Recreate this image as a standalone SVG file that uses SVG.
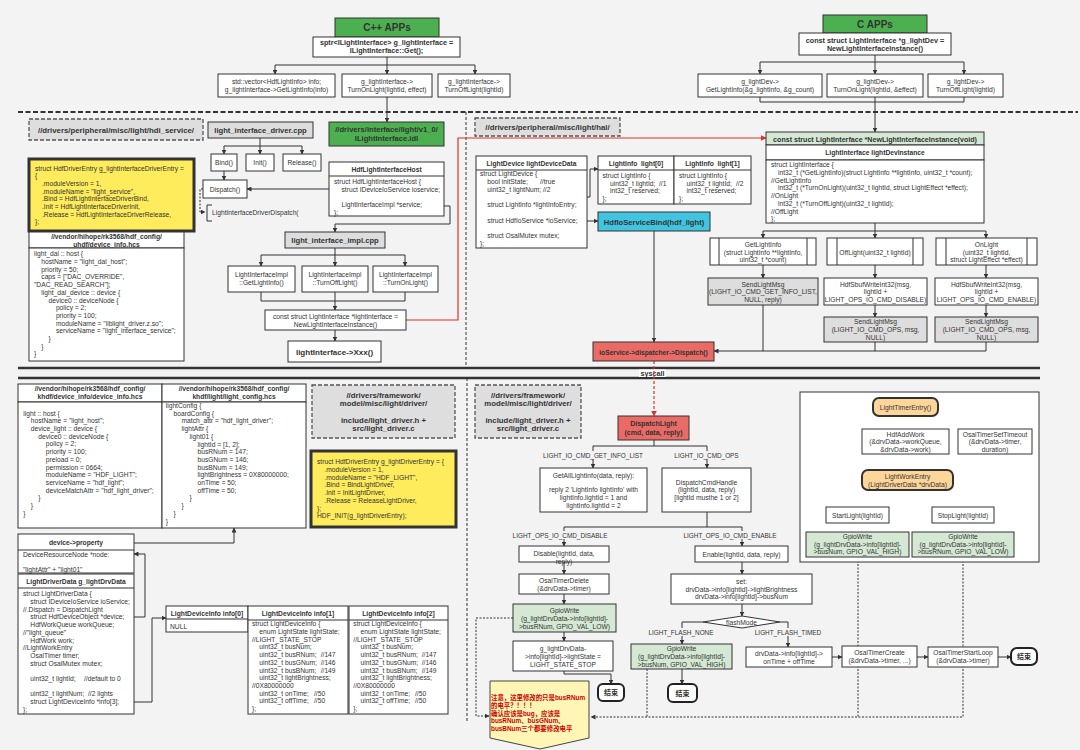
<svg xmlns="http://www.w3.org/2000/svg" width="1080" height="750" viewBox="0 0 1080 750">
<style>
text{font-family:"Liberation Sans","Noto Sans CJK SC",sans-serif;font-size:6.7px;fill:#333}
.b{font-weight:bold}
.m{text-anchor:middle}
.t7{font-size:7.2px}
.t8{font-size:7.8px}
.lb{font-size:6.4px}
.bx{fill:#fff;stroke:#333;stroke-width:1}
.gr{fill:#4caf50}
.lg{fill:#d5e8d4}
.gy{fill:#dddddd}
.ye{fill:#ffec5c;stroke-width:3}
.rd{fill:#ea6b66}
.cy{fill:#40c4e0}
.or{fill:#ffd699;stroke-width:2}
.end{fill:#fff;stroke:#222;stroke-width:2}
.dl{fill:#dedede;stroke:#555;stroke-width:1.3;stroke-dasharray:4 2}
.ln{fill:none;stroke:#333;stroke-width:1}
.ar{marker-end:url(#a)}
.dt{stroke-dasharray:2 1.5}
.red{fill:none;stroke:#d9342b;stroke-width:1.2;marker-end:url(#r)}
.sep{fill:none;stroke:#333}
.bg{fill:#f3f3f3}
.note{fill:#cc0000;font-weight:bold;font-size:6.4px}
</style>
<defs>
<marker id="a" viewBox="0 0 10 10" refX="9" refY="5" markerWidth="5" markerHeight="5" orient="auto" markerUnits="userSpaceOnUse"><path d="M0,0L10,5L0,10z" fill="#333"/></marker>
<marker id="r" viewBox="0 0 10 10" refX="9" refY="5" markerWidth="6" markerHeight="6" orient="auto" markerUnits="userSpaceOnUse"><path d="M0,0L10,5L0,10z" fill="#d9342b"/></marker>
</defs>
<rect x="0" y="0" width="1080" height="750" fill="#f3f3f3"/>

<g id="separators">
<path class="sep" d="M18,112H1078" stroke-width="2" stroke-dasharray="5 2.5"/>
<path class="sep" d="M466,112V368" stroke-width="1" stroke-dasharray="3 2"/>
<path class="sep" d="M467,378V722" stroke-width="1" stroke-dasharray="3 2"/>
<path class="sep" d="M18,368H1040M18,378H1040" stroke-width="2.5"/>
<rect x="639" y="369.5" width="27" height="7.5" fill="#fff"/>
<text class="b m t7" x="652.5" y="376">syscall</text>
</g>

<g id="connectors">
<path class="ln" d="M387,57V65M275,65H475"/>
<path class="ln ar" d="M275,65V74"/><path class="ln ar" d="M387,65V74"/><path class="ln ar" d="M475,65V74"/>
<path class="ln ar" d="M387,97V122"/>
<path class="ln" d="M260,138V146M224,146H302"/>
<path class="ln ar" d="M224,146V154"/><path class="ln ar" d="M260,146V154"/><path class="ln ar" d="M302,146V154"/>
<path class="ln ar" d="M224,171V180"/>
<path class="ln ar" d="M329,189H247"/>
<path class="ln ar dt" d="M203,189H200V212H205"/>
<path class="ln ar" d="M444,206H450V224H335V232"/>
<path class="ln" d="M335,248V255M261,255H405"/>
<path class="ln ar" d="M261,255V266"/><path class="ln ar" d="M335,255V266"/><path class="ln ar" d="M405,255V266"/>
<path class="ln" d="M261,292V301H405V292"/>
<path class="ln ar" d="M335,292V310"/>
<path class="ln ar" d="M335,330V341"/>
<path class="red" d="M406,320H458V138H766"/>
<path class="ln" d="M875,55V62M760,62H964"/>
<path class="ln ar" d="M760,62V74"/><path class="ln ar" d="M875,62V74"/><path class="ln ar" d="M964,62V74"/>
<path class="ln" d="M760,97V102H964V97"/>
<path class="ln ar" d="M875,97V132"/>
<path class="ln" d="M875,223V231M763,231H986"/>
<path class="ln ar" d="M763,231V238"/><path class="ln ar" d="M875,231V238"/><path class="ln ar" d="M986,231V238"/>
<path class="ln ar" d="M763,265V278"/><path class="ln ar" d="M875,265V278"/><path class="ln ar" d="M986,265V278"/>
<path class="ln ar" d="M875,305V317"/><path class="ln ar" d="M986,305V317"/>
<path class="ln" d="M763,305V351M875,342V351"/>
<path class="ln ar" d="M986,342V351H714"/>
<path class="ln ar" d="M587,197H590V169H598"/>
<path class="ln ar" d="M587,221H598"/>
<path class="ln ar" d="M654,231V342"/>
<path class="red" d="M654,361V416" stroke-width="1.6" stroke-dasharray="3 2"/>
<path class="ln ar" d="M134,543H234V528"/>
<path class="ln ar" d="M134,617H145V554H134"/>
<path class="ln ar" d="M134,702H152V618H166"/>
<path class="ln" d="M654,440V446M593,446H707"/>
<path class="ln ar" d="M593,446V468"/><path class="ln ar" d="M707,446V468"/>
<path class="ln" d="M707,512V527M564,527H742"/>
<path class="ln ar" d="M564,527V546"/><path class="ln ar" d="M742,527V546"/>
<path class="ln ar" d="M564,562V574"/><path class="ln ar" d="M564,594V604"/><path class="ln ar" d="M564,632V641"/>
<path class="ln ar" d="M564,671V674H611V684"/>
<path class="ln ar" d="M742,562V574"/><path class="ln ar" d="M742,604V616"/>
<path class="ln ar" d="M703,622H682V644"/>
<path class="ln ar" d="M780,622H788V647"/>
<path class="ln ar" d="M682,669V684"/>
<path class="ln ar" d="M832,657H842"/><path class="ln ar" d="M917,657H928"/><path class="ln ar" d="M998,657H1011"/>
<path class="ln ar" d="M906,416V429"/><path class="ln ar" d="M949,442H958"/>
<path class="ln" d="M908,490V498M858,498H963"/>
<path class="ln ar" d="M858,498V507"/><path class="ln ar" d="M963,498V507"/>
<path class="ln ar" d="M858,523V532"/><path class="ln ar" d="M963,523V532"/>
<path class="ln ar dt" d="M513,618H476V716H489"/>
<path class="ln dt" d="M647,669V717M858,557V717"/>
<path class="ln ar dt" d="M963,557V717H591"/>
<rect class="bg" x="546" y="451" width="94" height="8"/>
<text class="lb m" x="593" y="457.5">LIGHT_IO_CMD_GET_INFO_LIST</text>
<rect class="bg" x="676" y="451" width="61" height="8"/>
<text class="lb m" x="706.5" y="457.5">LIGHT_IO_CMD_OPS</text>
<rect class="bg" x="514" y="531" width="92" height="8"/>
<text class="lb m" x="560" y="537.5">LIGHT_OPS_IO_CMD_DISABLE</text>
<rect class="bg" x="686" y="531" width="89" height="8"/>
<text class="lb m" x="730" y="537.5">LIGHT_OPS_IO_CMD_ENABLE</text>
<rect class="bg" x="650" y="628" width="62" height="8"/>
<text class="lb m" x="681" y="634.5">LIGHT_FLASH_NONE</text>
<rect class="bg" x="757" y="628" width="62" height="8"/>
<text class="lb m" x="788" y="634.5">LIGHT_FLASH_TIMED</text>
</g>

<g id="cpp-apps"><rect class="bx gr" x="335" y="18" width="104" height="19"/><text class="b m" x="387" y="31" style="font-size:10px">C++ APPs</text></g>
<g id="cpp-get"><rect class="bx" x="313" y="37" width="147" height="20"/><text class="b m t7"><tspan x="386.5" y="45">sptr&lt;ILightInterface&gt; g_lightInterface =</tspan><tspan x="386.5" y="53">ILightInterface::Get();</tspan></text></g>
<g id="cpp-getinfo"><rect class="bx" x="218" y="74" width="117" height="23"/><text class="m"><tspan x="276.5" y="84">std::vector&lt;HdfLightInfo&gt; info;</tspan><tspan x="276.5" y="91.6">g_lightInterface-&gt;GetLightInfo(info)</tspan></text></g>
<g id="cpp-on"><rect class="bx" x="342" y="74" width="90" height="23"/><text class="m"><tspan x="387" y="84">g_lightInterface-&gt;</tspan><tspan x="387" y="91.6">TurnOnLight(lightId, effect)</tspan></text></g>
<g id="cpp-off"><rect class="bx" x="438" y="74" width="72" height="23"/><text class="m"><tspan x="474" y="84">g_lightInterface-&gt;</tspan><tspan x="474" y="91.6">TurnOffLight(lightId)</tspan></text></g>

<g id="c-apps"><rect class="bx gr" x="823" y="15" width="104" height="18"/><text class="b m" x="875" y="28" style="font-size:10px">C APPs</text></g>
<g id="c-get"><rect class="bx" x="799" y="33" width="152" height="22"/><text class="b m t7"><tspan x="875" y="43">const struct LightInterface *g_lightDev =</tspan><tspan x="875" y="50.8">NewLightInterfaceInstance()</tspan></text></g>
<g id="c-getinfo"><rect class="bx" x="698" y="74" width="124" height="23"/><text class="m"><tspan x="760" y="84">g_lightDev-&gt;</tspan><tspan x="760" y="91.6">GetLightInfo(&amp;g_lightInfo, &amp;g_count)</tspan></text></g>
<g id="c-on"><rect class="bx" x="827" y="74" width="96" height="23"/><text class="m"><tspan x="875" y="84">g_lightDev-&gt;</tspan><tspan x="875" y="91.6">TurnOnLight(lightId, &amp;effect)</tspan></text></g>
<g id="c-off"><rect class="bx" x="928" y="74" width="75" height="23"/><text class="m"><tspan x="965.5" y="84">g_lightDev-&gt;</tspan><tspan x="965.5" y="91.6">TurnOffLight(lightId)</tspan></text></g>

<g id="hdi-label"><rect class="dl" x="29" y="119" width="174" height="21"/><text class="b m t8" x="116" y="132.5">//drivers/peripheral/misc/light/hdi_service/</text></g>
<g id="driver-cpp"><rect class="bx gy" x="208" y="122" width="105" height="16"/><text class="b m" x="260.5" y="133" style="font-size:7.6px">light_interface_driver.cpp</text></g>
<g id="idl"><rect class="bx gr" x="329" y="122" width="115" height="24"/><text class="b m" style="font-size:7.6px"><tspan x="386.5" y="131.5">//drivers/interface/light/v1_0/</tspan><tspan x="386.5" y="141">ILightInterface.idl</tspan></text></g>
<g id="bind"><rect class="bx" x="211" y="154" width="26" height="17"/><text class="m" x="224" y="164.8">Bind()</text></g>
<g id="init"><rect class="bx" x="246" y="154" width="28" height="17"/><text class="m" x="260" y="164.8">Init()</text></g>
<g id="release"><rect class="bx" x="283" y="154" width="38" height="17"/><text class="m" x="302" y="164.8">Release()</text></g>
<g id="dispatch"><rect class="bx" x="203" y="180" width="44" height="18"/><text class="m" x="225" y="191.5">Dispatch()</text></g>
<g id="driver-dispatch"><path class="ln" d="M212,205H207V221H212"/><text x="212" y="214.5">LightInterfaceDriverDispatch(</text></g>
<g id="host"><rect class="bx" x="329" y="162" width="115" height="54"/><path class="ln" d="M329,176H444"/><text class="b m" x="386.5" y="171.5">HdfLightInterfaceHost</text>
<text><tspan x="334" y="184">struct HdfLightInterfaceHost {</tspan><tspan x="341.5" y="191.6">struct IDeviceIoService ioservice;</tspan><tspan x="341.5" y="207">LightInterfaceImpl *service;</tspan><tspan x="334" y="214.6">};</tspan></text></g>
<g id="impl-cpp"><rect class="bx gy" x="285" y="232" width="100" height="16"/><text class="b m" x="335" y="243" style="font-size:7.6px">light_interface_impl.cpp</text></g>
<g id="impl-get"><rect class="bx" x="228" y="266" width="67" height="26"/><text class="m"><tspan x="261.5" y="277">LightInterfaceImpl</tspan><tspan x="261.5" y="285">::GetLightInfo()</tspan></text></g>
<g id="impl-off"><rect class="bx" x="302" y="266" width="66" height="26"/><text class="m"><tspan x="335" y="277">LightInterfaceImpl</tspan><tspan x="335" y="285">::TurnOffLight()</tspan></text></g>
<g id="impl-on"><rect class="bx" x="373" y="266" width="65" height="26"/><text class="m"><tspan x="405.5" y="277">LightInterfaceImpl</tspan><tspan x="405.5" y="285">::TurnOnLight()</tspan></text></g>
<g id="impl-new"><rect class="bx" x="265" y="310" width="141" height="20"/><text class="m"><tspan x="335.5" y="318.5">const struct LightInterface *lightInterface =</tspan><tspan x="335.5" y="326.5">NewLightInterfaceInstance()</tspan></text></g>
<g id="xxx"><rect class="bx" x="288" y="341" width="93" height="21"/><text class="b m" x="334.5" y="354.5" style="font-size:8px">lightInterface-&gt;Xxx()</text></g>

<g id="hdi-entry"><rect class="bx ye" x="29" y="159" width="165" height="72"/>
<text><tspan x="35" y="170.5">struct HdfDriverEntry g_lightInterfaceDriverEntry =</tspan><tspan x="35" y="178.2">{</tspan><tspan x="42" y="185.9">.moduleVersion = 1,</tspan><tspan x="42" y="193.6">.moduleName = "light_service",</tspan><tspan x="42" y="201.3">.Bind = HdfLightInterfaceDriverBind,</tspan><tspan x="42" y="209">.Init = HdfLightInterfaceDriverInit,</tspan><tspan x="42" y="216.7">.Release = HdfLightInterfaceDriverRelease,</tspan><tspan x="35" y="224.4">};</tspan></text></g>
<g id="uhdf-device-info"><rect class="bx" x="29" y="232" width="155" height="16"/><text class="b m"><tspan x="106.5" y="239">//vendor/hihope/rk3568/hdf_config/</tspan><tspan x="106.5" y="246.6">uhdf/device_info.hcs</tspan></text>
<rect class="bx" x="29" y="248" width="155" height="113"/>
<text><tspan x="34" y="256.3">light_dal :: host {</tspan><tspan x="41.3" y="264">hostName = "light_dal_host";</tspan><tspan x="41.3" y="271.7">priority = 50;</tspan><tspan x="41.3" y="279.4">caps = ["DAC_OVERRIDE",</tspan><tspan x="34" y="287.1">"DAC_READ_SEARCH"];</tspan><tspan x="41.3" y="294.8">light_dal_device :: device {</tspan><tspan x="48.6" y="302.5">device0 :: deviceNode {</tspan><tspan x="55.9" y="310.2">policy = 2;</tspan><tspan x="55.9" y="317.9">priority = 100;</tspan><tspan x="55.9" y="325.6">moduleName = "liblight_driver.z.so";</tspan><tspan x="55.9" y="333.3">serviceName = "light_interface_service";</tspan><tspan x="48.6" y="341">}</tspan><tspan x="41.3" y="348.7">}</tspan><tspan x="34" y="356.4">}</tspan></text></g>

<g id="hal-label"><rect class="dl" x="475" y="118" width="145" height="18"/><text class="b m t8" x="547.5" y="130">//drivers/peripheral/misc/light/hal/</text></g>
<g id="light-device"><rect class="bx" x="476" y="156" width="111" height="92"/><path class="ln" d="M476,170H587"/><text class="b m" x="531.5" y="165.5">LightDevice lightDeviceData</text>
<text><tspan x="480" y="176.3">struct LightDevice {</tspan><tspan x="487.3" y="184">bool initState;</tspan><tspan x="540" y="184">//true</tspan><tspan x="487.3" y="191.7">uint32_t lightNum;</tspan><tspan x="543" y="191.7">//2</tspan><tspan x="487.3" y="207.1">struct LightInfo *lightInfoEntry;</tspan><tspan x="487.3" y="222.5">struct HdfIoService *ioService;</tspan><tspan x="487.3" y="237.9">struct OsalMutex mutex;</tspan><tspan x="480" y="245.6">};</tspan></text></g>
<g id="light-info-0"><rect class="bx" x="598" y="156" width="76" height="48"/><path class="ln" d="M598,170H674"/><text class="b m" x="636" y="165.5">LightInfo&#160;&#160;light[0]</text>
<text><tspan x="602.5" y="178">struct LightInfo {</tspan><tspan x="610" y="185.6">uint32_t lightId;</tspan><tspan x="659" y="185.6">//1</tspan><tspan x="610" y="193.3">int32_t reserved;</tspan><tspan x="602.5" y="201">};</tspan></text></g>
<g id="light-info-1"><rect class="bx" x="674" y="156" width="77" height="48"/><path class="ln" d="M674,170H751"/><text class="b m" x="712.5" y="165.5">LightInfo&#160;&#160;light[1]</text>
<text><tspan x="679" y="178">struct LightInfo {</tspan><tspan x="686.5" y="185.6">uint32_t lightId;</tspan><tspan x="736" y="185.6">//2</tspan><tspan x="686.5" y="193.3">int32_t reserved;</tspan><tspan x="679" y="201">};</tspan></text></g>
<g id="io-bind"><rect class="bx cy" x="598" y="212" width="112" height="19"/><text class="b m" x="654" y="224.8" style="font-size:7.6px">HdfIoServiceBind(hdf_light)</text></g>
<g id="io-dispatch"><rect class="bx rd" x="593" y="342" width="121" height="19"/><text class="b m" x="653.5" y="354.5">ioService-&gt;dispatcher-&gt;Dispatch()</text></g>

<g id="new-instance"><rect class="bx lg" x="766" y="132" width="218" height="13"/><text class="b m" x="875" y="141.5" style="font-size:7.1px">const struct LightInterface *NewLightInterfaceInstance(void)</text>
<rect class="bx" x="766" y="145" width="218" height="15"/><text class="b m" x="875" y="155">LightInterface lightDevInstance</text>
<rect class="bx" x="766" y="160" width="218" height="63"/>
<text><tspan x="771" y="167.3">struct LightInterface {</tspan><tspan x="778" y="175">int32_t (*GetLightInfo)(struct LightInfo **lightInfo, uint32_t *count);</tspan><tspan x="771" y="182.7">//GetLightInfo</tspan><tspan x="778" y="190.4">int32_t (*TurnOnLight)(uint32_t lightId, struct LightEffect *effect);</tspan><tspan x="771" y="198.1">//OnLight</tspan><tspan x="778" y="205.8">int32_t (*TurnOffLight)(uint32_t lightId);</tspan><tspan x="771" y="213.5">//OffLight</tspan><tspan x="771" y="221.2">};</tspan></text></g>
<g id="hal-getinfo"><rect class="bx" x="710" y="238" width="106" height="27"/><path class="ln" d="M719,238V265M807,238V265"/><text class="m"><tspan x="763" y="247.3">GetLightInfo</tspan><tspan x="763" y="255">(struct LightInfo **lightInfo,</tspan><tspan x="763" y="261.8">uint32_t *count)</tspan></text></g>
<g id="hal-off"><rect class="bx" x="827" y="238" width="96" height="27"/><path class="ln" d="M837,238V265M913,238V265"/><text class="m" x="875" y="254.5">OffLight(uint32_t lightId)</text></g>
<g id="hal-on"><rect class="bx" x="936" y="238" width="101" height="27"/><path class="ln" d="M946,238V265M1027,238V265"/><text class="m"><tspan x="986.5" y="247">OnLight</tspan><tspan x="986.5" y="255">(uint32_t lightId,</tspan><tspan x="986.5" y="262.3">struct LightEffect *effect)</tspan></text></g>
<g id="send-get"><rect class="bx gy" x="708" y="278" width="110" height="27"/><text class="m"><tspan x="763" y="286.6">SendLightMsg</tspan><tspan x="763" y="294">(LIGHT_IO_CMD_GET_INFO_LIST,</tspan><tspan x="763" y="301.6">NULL, reply)</tspan></text></g>
<g id="sbuf-disable"><rect class="bx" x="824" y="278" width="103" height="27"/><text class="m"><tspan x="875.5" y="286.6">HdfSbufWriteInt32(msg,</tspan><tspan x="875.5" y="294">lightId +</tspan><tspan x="875.5" y="301.6">LIGHT_OPS_IO_CMD_DISABLE)</tspan></text></g>
<g id="send-off"><rect class="bx gy" x="824" y="317" width="103" height="25"/><text class="m"><tspan x="875.5" y="324">SendLightMsg</tspan><tspan x="875.5" y="332.3">(LIGHT_IO_CMD_OPS, msg,</tspan><tspan x="875.5" y="339.6">NULL)</tspan></text></g>
<g id="sbuf-enable"><rect class="bx" x="935" y="278" width="103" height="27"/><text class="m"><tspan x="986.5" y="286.6">HdfSbufWriteInt32(msg,</tspan><tspan x="986.5" y="294">lightId +</tspan><tspan x="986.5" y="301.6">LIGHT_OPS_IO_CMD_ENABLE)</tspan></text></g>
<g id="send-on"><rect class="bx gy" x="935" y="317" width="103" height="25"/><text class="m"><tspan x="986.5" y="324">SendLightMsg</tspan><tspan x="986.5" y="332.3">(LIGHT_IO_CMD_OPS, msg,</tspan><tspan x="986.5" y="339.6">NULL)</tspan></text></g>

<g id="khdf-device-info"><rect class="bx" x="18" y="384" width="144" height="18"/><text class="b m"><tspan x="90" y="390.8">//vendor/hihope/rk3568/hdf_config/</tspan><tspan x="90" y="398.5">khdf/device_info/device_info.hcs</tspan></text>
<rect class="bx" x="18" y="402" width="144" height="126"/>
<text><tspan x="23.3" y="415.6">light :: host {</tspan><tspan x="30.8" y="423.3">hostName = "light_host";</tspan><tspan x="30.8" y="431">device_light :: device {</tspan><tspan x="38.3" y="438.7">device0 :: deviceNode {</tspan><tspan x="45.8" y="446.4">policy = 2;</tspan><tspan x="45.8" y="454.1">priority = 100;</tspan><tspan x="45.8" y="461.8">preload = 0;</tspan><tspan x="45.8" y="469.5">permission = 0664;</tspan><tspan x="45.8" y="477.2">moduleName = "HDF_LIGHT";</tspan><tspan x="45.8" y="484.9">serviceName = "hdf_light";</tspan><tspan x="45.8" y="492.6">deviceMatchAttr = "hdf_light_driver";</tspan><tspan x="38.3" y="500.3">}</tspan><tspan x="30.8" y="508">}</tspan><tspan x="23.3" y="515.7">}</tspan></text></g>
<g id="light-config"><rect class="bx" x="162" y="384" width="144" height="18"/><text class="b m"><tspan x="234" y="390.8">//vendor/hihope/rk3568/hdf_config/</tspan><tspan x="234" y="398.5">khdf/light/light_config.hcs</tspan></text>
<rect class="bx" x="162" y="402" width="144" height="126"/>
<text><tspan x="165.7" y="408">lightConfig {</tspan><tspan x="173.5" y="415.7">boardConfig {</tspan><tspan x="181.5" y="423.4">match_attr = "hdf_light_driver";</tspan><tspan x="181.5" y="431.1">lightAttr {</tspan><tspan x="189.5" y="438.8">light01 {</tspan><tspan x="197.5" y="446.5">lightId = [1, 2];</tspan><tspan x="197.5" y="454.2">busRNum = 147;</tspan><tspan x="197.5" y="461.9">busGNum = 146;</tspan><tspan x="197.5" y="469.6">busBNum = 149;</tspan><tspan x="197.5" y="477.3">lightBrightness = 0X80000000;</tspan><tspan x="197.5" y="485">onTime = 50;</tspan><tspan x="197.5" y="492.7">offTime = 50;</tspan><tspan x="189.5" y="500.4">}</tspan><tspan x="181.5" y="508.1">}</tspan><tspan x="173.5" y="515.8">}</tspan><tspan x="165.7" y="523.5">}</tspan></text></g>
<g id="device-property"><rect class="bx" x="18" y="534" width="116" height="39"/><path class="ln" d="M18,550H134"/><text class="b m" x="76" y="545">device-&gt;property</text>
<text><tspan x="23" y="556.6">DeviceResourceNode *node:</tspan><tspan x="23" y="571.6">"lightAttr" + "light01"</tspan></text></g>
<g id="driver-data"><rect class="bx" x="18" y="574" width="116" height="140"/><path class="ln" d="M18,588H134"/><text class="b m" x="76" y="584">LightDriverData g_lightDrvData</text>
<text><tspan x="23" y="596.3">struct LightDriverData {</tspan><tspan x="30.3" y="604">struct IDeviceIoService ioService;</tspan><tspan x="23" y="611.7">//.Dispatch = DispatchLight</tspan><tspan x="30.3" y="619.4">struct HdfDeviceObject *device;</tspan><tspan x="30.3" y="627.1">HdfWorkQueue workQueue;</tspan><tspan x="23" y="634.8">//"light_queue"</tspan><tspan x="30.3" y="642.5">HdfWork work;</tspan><tspan x="23" y="650.2">//LightWorkEntry</tspan><tspan x="30.3" y="657.9">OsalTimer timer;</tspan><tspan x="30.3" y="665.6">struct OsalMutex mutex;</tspan><tspan x="30.3" y="681">uint32_t lightId;</tspan><tspan x="84" y="681">//default to 0</tspan><tspan x="30.3" y="696.4">uint32_t lightNum;</tspan><tspan x="88" y="696.4">//2 lights</tspan><tspan x="30.3" y="704.1">struct LightDeviceInfo *info[3];</tspan><tspan x="23" y="711.8">};</tspan></text></g>
<g id="info-0"><rect class="bx" x="166" y="606" width="82" height="26"/><path class="ln" d="M166,619H248"/><text class="b m" x="207" y="615.5">LightDeviceInfo info[0]</text><text x="170" y="629">NULL</text></g>
<g id="info-1"><rect class="bx" x="248" y="606" width="100" height="108"/><path class="ln" d="M248,620H348"/><text class="b m" x="298" y="616">LightDeviceInfo info[1]</text>
<text><tspan x="252" y="626.3">struct LightDeviceInfo {</tspan><tspan x="259.3" y="634">enum LightState lightState;</tspan><tspan x="252" y="641.7">//LIGHT_STATE_STOP</tspan><tspan x="259.3" y="649.4">uint32_t busNum;</tspan><tspan x="259.3" y="657.1">uint32_t busRNum;</tspan><tspan x="320.7" y="657.1">//147</tspan><tspan x="259.3" y="664.8">uint32_t busGNum;</tspan><tspan x="320.7" y="664.8">//146</tspan><tspan x="259.3" y="672.5">uint32_t busBNum;</tspan><tspan x="320.7" y="672.5">//149</tspan><tspan x="259.3" y="680.2">uint32_t lightBrightness;</tspan><tspan x="252" y="687.9">//0X80000000</tspan><tspan x="259.3" y="695.6">uint32_t onTime;</tspan><tspan x="314" y="695.6">//50</tspan><tspan x="259.3" y="703.3">uint32_t offTime;</tspan><tspan x="314" y="703.3">//50</tspan><tspan x="252" y="711">};</tspan></text></g>
<g id="info-2"><rect class="bx" x="349" y="606" width="99" height="108"/><path class="ln" d="M349,620H448"/><text class="b m" x="398.5" y="616">LightDeviceInfo info[2]</text>
<text><tspan x="353.3" y="626.3">struct LightDeviceInfo {</tspan><tspan x="360.6" y="634">enum LightState lightState;</tspan><tspan x="353.3" y="641.7">//LIGHT_STATE_STOP</tspan><tspan x="360.6" y="649.4">uint32_t busNum;</tspan><tspan x="360.6" y="657.1">uint32_t busRNum;</tspan><tspan x="421.7" y="657.1">//147</tspan><tspan x="360.6" y="664.8">uint32_t busGNum;</tspan><tspan x="421.7" y="664.8">//146</tspan><tspan x="360.6" y="672.5">uint32_t busBNum;</tspan><tspan x="421.7" y="672.5">//149</tspan><tspan x="360.6" y="680.2">uint32_t lightBrightness;</tspan><tspan x="353.3" y="687.9">//0X80000000</tspan><tspan x="360.6" y="695.6">uint32_t onTime;</tspan><tspan x="415" y="695.6">//50</tspan><tspan x="360.6" y="703.3">uint32_t offTime;</tspan><tspan x="415" y="703.3">//50</tspan><tspan x="353.3" y="711">};</tspan></text></g>

<g id="driver-label-1"><rect class="dl" x="312" y="385" width="143" height="53"/><text class="b m t8"><tspan x="383.5" y="397.8">//drivers/framework/</tspan><tspan x="383.5" y="405.5">model/misc/light/driver/</tspan><tspan x="383.5" y="422.8">include/light_driver.h +</tspan><tspan x="383.5" y="431">src/light_driver.c</tspan></text></g>
<g id="driver-label-2"><rect class="dl" x="475" y="385" width="106" height="53"/><text class="b m t8"><tspan x="528" y="397.8">//drivers/framework/</tspan><tspan x="528" y="405.5">model/misc/light/driver/</tspan><tspan x="528" y="422.8">include/light_driver.h +</tspan><tspan x="528" y="431">src/light_driver.c</tspan></text></g>
<g id="driver-entry"><rect class="bx ye" x="311" y="451" width="145" height="76"/>
<text><tspan x="317" y="464.3">struct HdfDriverEntry g_lightDriverEntry = {</tspan><tspan x="324.3" y="472">.moduleVersion = 1,</tspan><tspan x="324.3" y="479.7">.moduleName = "HDF_LIGHT",</tspan><tspan x="324.3" y="487.4">.Bind = BindLightDriver,</tspan><tspan x="324.3" y="495.1">.Init = InitLightDriver,</tspan><tspan x="324.3" y="502.8">.Release = ReleaseLightDriver,</tspan><tspan x="317" y="510.5">};</tspan><tspan x="317" y="518.2">HDF_INIT(g_lightDriverEntry);</tspan></text></g>

<g id="dispatch-light"><rect class="bx rd" x="618" y="416" width="71" height="24"/><text class="b m" style="font-size:7px"><tspan x="653.5" y="426.3">DispatchLight</tspan><tspan x="653.5" y="435">(cmd, data, reply)</tspan></text></g>
<g id="get-all"><rect class="bx" x="540" y="468" width="107" height="44"/><text class="m"><tspan x="593.5" y="478">GetAllLightInfo(data, reply):</tspan><tspan x="593.5" y="492.3">reply 2 'LightInfo lightInfo' with</tspan><tspan x="593.5" y="499.8">lightInfo.lightId = 1 and</tspan><tspan x="593.5" y="508.3">lightInfo.lightId = 2</tspan></text></g>
<g id="cmd-handle"><rect class="bx" x="662" y="468" width="89" height="44"/><text class="m"><tspan x="706.5" y="484.6">DispatchCmdHandle</tspan><tspan x="706.5" y="492.3">(lightId, data, reply)</tspan><tspan x="706.5" y="499.8">[lightId musthe 1 or 2]</tspan></text></g>
<g id="disable"><rect class="bx" x="519" y="546" width="90" height="16"/><text class="m"><tspan x="564" y="555.6">Disable(lightId, data,</tspan><tspan x="564" y="564">reply)</tspan></text></g>
<g id="timer-delete"><rect class="bx" x="519" y="574" width="90" height="20"/><text class="m"><tspan x="564" y="583">OsalTimerDelete</tspan><tspan x="564" y="590.6">(&amp;drvData-&gt;timer)</tspan></text></g>
<g id="gpio-low-1"><rect class="bx lg" x="513" y="604" width="103" height="28"/><text class="m"><tspan x="564.5" y="613.3">GpioWrite</tspan><tspan x="564.5" y="621.3">(g_lightDrvData-&gt;info[lightId]-</tspan><tspan x="564.5" y="629">&gt;busRNum, GPIO_VAL_LOW)</tspan></text></g>
<g id="light-state"><rect class="bx" x="513" y="641" width="100" height="30"/><text class="m"><tspan x="563" y="650.6">g_lightDrvData-</tspan><tspan x="563" y="659">&gt;info[lightId]-&gt;lightState =</tspan><tspan x="563" y="666.6">LIGHT_STATE_STOP</tspan></text></g>
<g id="end-1"><rect class="end" x="598" y="684" width="26" height="17" rx="5"/><text class="b m" x="611" y="695.3" style="font-size:7px">结束</text></g>
<g id="enable"><rect class="bx" x="695" y="546" width="93" height="16"/><text class="m" x="741.5" y="556.6">Enable(lightId, data, reply)</text></g>
<g id="set"><rect class="bx" x="671" y="574" width="141" height="30"/><text class="m"><tspan x="741.5" y="584">set:</tspan><tspan x="741.5" y="591.6">drvData-&gt;info[lightId]-&gt;lightBrightness</tspan><tspan x="741.5" y="599">drvData-&gt;info[lightId]-&gt;busNum</tspan></text></g>
<g id="flash-mode"><path class="bx" d="M742,616L780,622L742,628L703,622Z"/><text class="m" x="741.5" y="624.6">flashMode</text></g>
<g id="gpio-high-1"><rect class="bx lg" x="631" y="644" width="101" height="25"/><text class="m"><tspan x="681.5" y="651.3">GpioWrite</tspan><tspan x="681.5" y="659">(g_lightDrvData-&gt;info[lightId]-</tspan><tspan x="681.5" y="666.6">&gt;busNum, GPIO_VAL_HIGH)</tspan></text></g>
<g id="end-2"><rect class="end" x="668" y="684" width="29" height="18" rx="5"/><text class="b m" x="682.5" y="695.8" style="font-size:7px">结束</text></g>
<g id="on-off-time"><rect class="bx" x="746" y="647" width="86" height="20"/><text class="m"><tspan x="789" y="655.5">drvData-&gt;info[lightId]-&gt;</tspan><tspan x="789" y="663.5">onTime + offTime</tspan></text></g>
<g id="timer-create"><rect class="bx" x="842" y="646" width="75" height="21"/><text class="m"><tspan x="879.5" y="655">OsalTimerCreate</tspan><tspan x="879.5" y="663">(&amp;drvData-&gt;timer, ...)</tspan></text></g>
<g id="timer-loop"><rect class="bx" x="928" y="647" width="70" height="20"/><text class="m"><tspan x="963" y="655">OsalTimerStartLoop</tspan><tspan x="963" y="663">(&amp;drvData-&gt;timer)</tspan></text></g>
<g id="end-3"><rect class="end" x="1011" y="648" width="26" height="17" rx="6"/><text class="b m" x="1024" y="659.3" style="font-size:7px">结束</text></g>

<g id="note"><path d="M490,681H589V738L540,749L490,738Z" fill="#fff6b5" stroke="#444" stroke-width="1"/>
<text class="note"><tspan x="491" y="700">注意，这里修改的只是busRNum</tspan><tspan x="491" y="707.8">的电平？！！！</tspan><tspan x="491" y="715.5">确认应该是bug，应该是</tspan><tspan x="491" y="723.2">busRNum、busGNum、</tspan><tspan x="491" y="731">busBNum三个都要修改电平</tspan></text></g>

<g id="timer-panel"><rect class="bx" x="800" y="392" width="239" height="170"/></g>
<g id="timer-entry"><rect class="bx or" x="873" y="398" width="65" height="18" rx="6"/><text class="m" x="905.5" y="409.7">LightTimerEntry()</text></g>
<g id="add-work"><rect class="bx" x="862" y="429" width="87" height="25"/><text class="m"><tspan x="905.5" y="436.6">HdfAddWork</tspan><tspan x="905.5" y="444">(&amp;drvData-&gt;workQueue,</tspan><tspan x="905.5" y="451.6">&amp;drvData-&gt;work)</tspan></text></g>
<g id="set-timeout"><rect class="bx" x="958" y="429" width="74" height="25"/><text class="m"><tspan x="995" y="436.6">OsalTimerSetTimeout</tspan><tspan x="995" y="444">(&amp;drvData-&gt;timer,</tspan><tspan x="995" y="451.6">duration)</tspan></text></g>
<g id="work-entry"><rect class="bx or" x="862" y="470" width="91" height="20" rx="6"/><text class="m"><tspan x="907.5" y="479">LightWorkEntry</tspan><tspan x="907.5" y="486.6">(LightDriverData *drvData)</tspan></text></g>
<g id="start-light"><rect class="bx" x="826" y="507" width="63" height="16"/><text class="m" x="857.5" y="517.5">StartLight(lightId)</text></g>
<g id="stop-light"><rect class="bx" x="932" y="507" width="62" height="16"/><text class="m" x="963" y="517.5">StopLight(lightId)</text></g>
<g id="gpio-high-2"><rect class="bx lg" x="806" y="532" width="103" height="25"/><text class="m"><tspan x="857.5" y="539">GpioWrite</tspan><tspan x="857.5" y="546.6">(g_lightDrvData-&gt;info[lightId]-</tspan><tspan x="857.5" y="554.4">&gt;busNum, GPIO_VAL_HIGH)</tspan></text></g>
<g id="gpio-low-2"><rect class="bx lg" x="912" y="532" width="102" height="25"/><text class="m"><tspan x="963" y="539">GpioWrite</tspan><tspan x="963" y="546.6">(g_lightDrvData-&gt;info[lightId]-</tspan><tspan x="963" y="554.4">&gt;busRNum, GPIO_VAL_LOW)</tspan></text></g>
</svg>
